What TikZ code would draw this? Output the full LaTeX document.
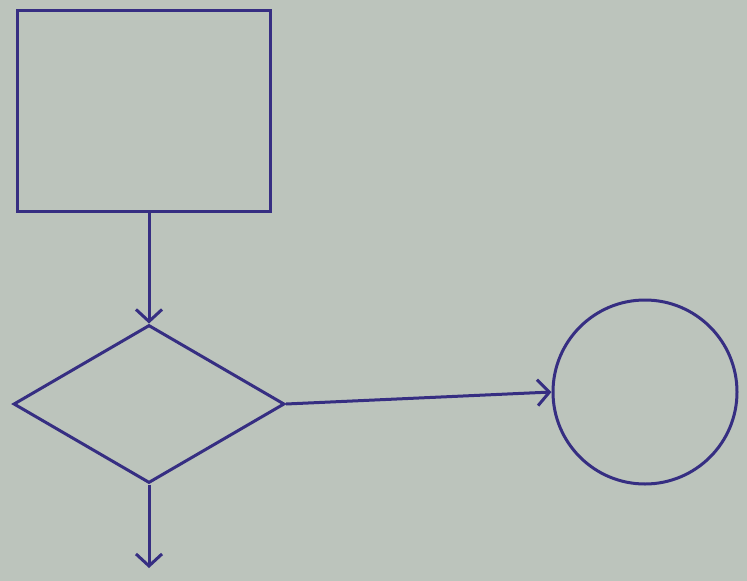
\documentclass[tikz,border=0pt]{standalone}
\usetikzlibrary{positioning}
\usetikzlibrary{shapes.geometric}
\usetikzlibrary{arrows.meta}

\definecolor{paper}{RGB}{188,196,188}
\definecolor{ink}{RGB}{54,46,130}

\tikzset{ shape line/.style = { draw = ink
                              , line width = 3pt
                              , inner sep = 0pt
                              }
        , flow/.style = { -{Straight Barb[length=12pt, width=26pt, line width=3pt]}
                        , draw = ink
                        , line width = 3pt
                        }
        }

\begin{document}
\begin{tikzpicture}[x=1pt, y=-1pt]

  % paper
  \fill [paper] (0,0) rectangle (747,581);
  \useasboundingbox (0,0) rectangle (747,581);

  \node (process) [shape line, rectangle, minimum width=253pt, minimum height=201pt]
    at (143.5,110.5) {};
  \node (decision) [shape line, diamond, minimum width=271pt, minimum height=158pt]
    at (149,404) {};
  \node (terminal) [shape line, circle, minimum size=184pt]
    at (645,392) {};
  \coordinate (exit) at (149,568);

  \draw [flow] (process.south -| decision.north) to (decision.north);
  \draw [flow] (decision.east) to (terminal.west);
  \draw [flow] (decision.south) to (exit);

\end{tikzpicture}
\end{document}
